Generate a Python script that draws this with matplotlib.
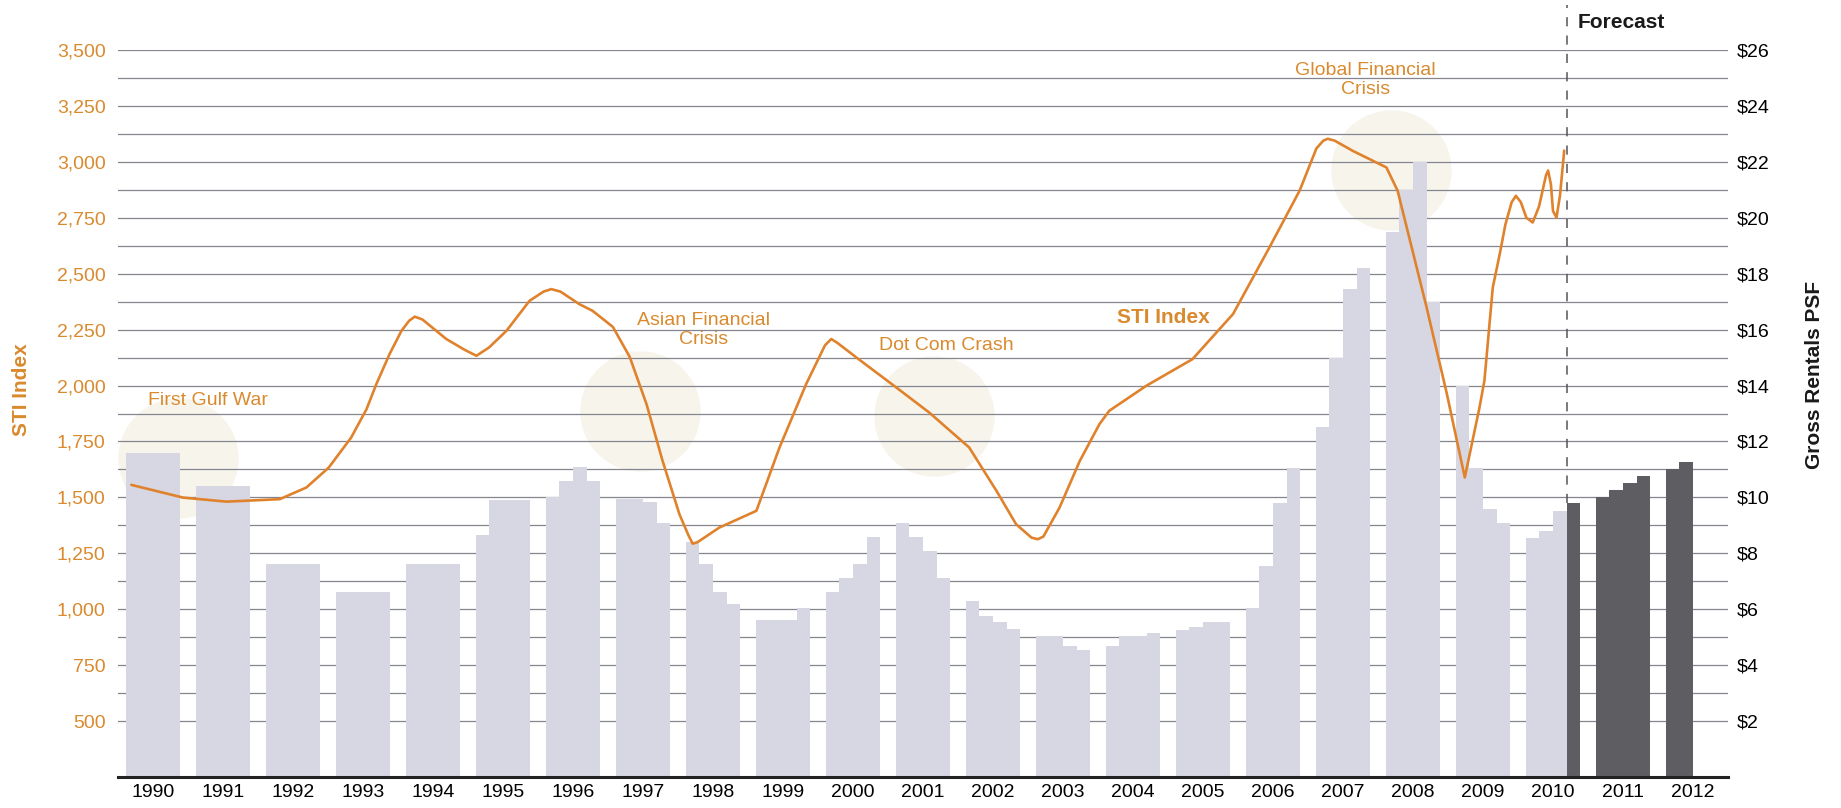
import matplotlib
matplotlib.use('Agg')
import matplotlib.pyplot as plt
import numpy as np

plt.rcParams['font.family'] = ['Liberation Sans', 'DejaVu Sans']

# years on the x axis
years = list(range(1990, 2013))

# quarterly gross rentals (S$ psf)
rent_q = [
    [11.6, 11.6, 11.6, 11.6],   # 1990
    [10.4, 10.4, 10.4, 10.4],   # 1991
    [7.6, 7.6, 7.6, 7.6],       # 1992
    [6.6, 6.6, 6.6, 6.6],       # 1993
    [7.6, 7.6, 7.6, 7.6],       # 1994
    [8.65, 9.9, 9.9, 9.9],      # 1995
    [10.0, 10.6, 11.1, 10.6],   # 1996
    [9.95, 9.95, 9.85, 9.1],    # 1997
    [8.4, 7.6, 6.6, 6.2],       # 1998
    [5.6, 5.6, 5.6, 6.05],      # 1999
    [6.6, 7.1, 7.6, 8.6],       # 2000
    [9.1, 8.6, 8.1, 7.1],       # 2001
    [6.3, 5.75, 5.55, 5.3],     # 2002
    [5.05, 5.05, 4.7, 4.55],    # 2003
    [4.7, 5.05, 5.05, 5.15],    # 2004
    [5.25, 5.35, 5.55, 5.55],   # 2005
    [6.05, 7.55, 9.8, 11.05],   # 2006
    [12.5, 15.0, 17.45, 18.2],  # 2007
    [19.5, 21.0, 22.0, 17.0],   # 2008
    [14.0, 11.05, 9.6, 9.1],    # 2009
    [8.55, 8.8, 9.5, 9.8],      # 2010
    [10.0, 10.25, 10.5, 10.75], # 2011
    [11.0, 11.25],              # 2012
]
# forecast starts at 2010 Q4
forecast_start = (2010, 4)

# STI index line (x in years, centred on the year bars)
sti_t = [1989.69, 1990.43, 1991.05, 1991.81, 1992.19, 1992.51, 1992.83, 1993.05,
         1993.19, 1993.38, 1993.55, 1993.66, 1993.74, 1993.85, 1994.19, 1994.45,
         1994.62, 1994.8, 1995.05, 1995.38, 1995.58, 1995.69, 1995.82, 1996.09,
         1996.28, 1996.57, 1996.81, 1997.05, 1997.28, 1997.52, 1997.65, 1997.71,
         1997.78, 1998.09, 1998.62, 1998.95, 1999.33, 1999.6, 1999.69, 1999.78,
         2000.05, 2000.62, 2001.09, 2001.66, 2002.05, 2002.33, 2002.55, 2002.64,
         2002.72, 2002.95, 2003.24, 2003.52, 2003.66, 2004.19, 2004.85, 2005.43,
         2005.95, 2006.38, 2006.62, 2006.72, 2006.78, 2006.88, 2007.14, 2007.62,
         2007.78, 2008.19, 2008.48, 2008.74, 2008.95, 2009.02, 2009.14, 2009.24,
         2009.32, 2009.41, 2009.47, 2009.54, 2009.62, 2009.71, 2009.8, 2009.9,
         2009.93, 2009.97, 2010.0, 2010.05, 2010.1, 2010.16]
sti_v = [1556, 1499, 1481, 1492, 1544, 1633, 1767, 1894,
         2006, 2141, 2245, 2290, 2308, 2295, 2208, 2160,
         2133, 2170, 2245, 2379, 2420, 2431, 2420, 2364,
         2334, 2262, 2128, 1917, 1663, 1425, 1330, 1293,
         1300, 1365, 1440, 1723, 2006, 2180, 2208, 2190,
         2125, 1991, 1879, 1723, 1529, 1380, 1320, 1313,
         1325, 1454, 1663, 1827, 1887, 1999, 2118, 2320,
         2618, 2871, 3060, 3095, 3103, 3095, 3049, 2975,
         2871, 2355, 1968, 1589, 1902, 2021, 2439, 2589,
         2720, 2820, 2848, 2820, 2750, 2729, 2800, 2940,
         2961, 2900, 2780, 2751, 2850, 3050]

# annotations (text, year position, STI level)
events = [
    ('First Gulf War', 1990.79, 1932),
    ('Asian Financial\nCrisis', 1997.86, 2249),
    ('Dot Com Crash', 2001.34, 2178),
    ('Global Financial\nCrisis', 2007.32, 3368),
]

orange = '#e0822c'
orange_txt = '#d98a2e'
light_bar = '#d7d7e3'
dark_bar = '#5e5e62'

fig = plt.figure(figsize=(18.41, 8.08), dpi=100)
ax2 = fig.add_axes([118 / 1841, 1 - 777 / 808, (1728 - 118) / 1841, (777 - 50) / 808])
ax1 = ax2.twinx()
ax1.set_zorder(ax2.get_zorder() + 1)
ax1.patch.set_visible(False)

# rental bars on the $ axis (ax2)
qw = 0.196
for i, yr in enumerate(years):
    for q, val in enumerate(rent_q[i]):
        is_fc = (yr, q + 1) >= forecast_start
        ax2.bar(i + (q - 1.5) * qw, val, width=qw, color=dark_bar if is_fc else light_bar,
                linewidth=0, zorder=2)

# faint glow circles behind events
for gx, gy in [(0.35, 11.4), (6.95, 13.1), (11.16, 12.9), (17.69, 21.7)]:
    ax2.scatter(gx, gy, s=7500, color='#f7f4ec', linewidths=0, zorder=0.2)

ax2.set_xlim(-0.5, 22.5)
ax2.set_ylim(0, 26)
ax2.set_yticks(np.arange(2, 27, 2))
ax2.set_yticks(np.arange(3, 26, 2), minor=True)
ax2.set_yticklabels(['$%d' % v for v in range(2, 27, 2)])
ax2.set_axisbelow(True)
ax2.grid(which='both', axis='y', color='#85858f', linewidth=0.9)
ax2.tick_params(axis='y', which='both', length=0, labelsize=14, pad=6,
                labelleft=False, labelright=True, left=False)
ax2.set_xticks(range(len(years)))
ax2.set_xticklabels([str(y) for y in years])
ax2.tick_params(axis='x', length=0, labelsize=14, pad=5)
for s in ['top', 'left', 'right']:
    ax2.spines[s].set_visible(False)
ax2.spines['bottom'].set_color('#222222')
ax2.spines['bottom'].set_linewidth(2.2)

# STI line on the left axis (ax1)
ax1.set_ylim(250, 3500)
ax1.yaxis.set_label_position('left')
ax1.yaxis.tick_left()
ax1.set_yticks(np.arange(500, 3501, 250))
ax1.set_yticklabels(['{:,}'.format(v) for v in range(500, 3501, 250)])
ax1.tick_params(axis='y', length=0, labelsize=14, pad=9, labelcolor=orange_txt,
                labelright=False, right=False)
for s in ax1.spines.values():
    s.set_visible(False)
ax1.plot([t - 1990 for t in sti_t], sti_v, color=orange, linewidth=1.9,
         solid_joinstyle='round', solid_capstyle='round', zorder=3)

for txt, tx, ty in events:
    ax1.text(tx - 1990, ty, txt, color=orange_txt, fontsize=14, ha='center',
             va='center', linespacing=1.15, zorder=4)
ax1.text(14.44, 2303, 'STI Index', color=orange_txt, fontsize=15, fontweight='bold',
         ha='center', va='center', zorder=4)

# forecast divider
fc_x = 20 + qw
ax1.plot([fc_x, fc_x], [1474, 3700], color='#555555', linewidth=1.1,
         linestyle=(0, (6, 6)), clip_on=False, zorder=3)
ax1.text(20.35, 3624, 'Forecast', fontsize=15, fontweight='bold', color='#1a1a1a',
         ha='left', va='center', clip_on=False)

fig.text(22 / 1841, 1 - 390 / 808, 'STI Index', rotation=90, color=orange_txt,
         fontsize=15, fontweight='bold', ha='center', va='center')
fig.text(1814 / 1841, 1 - 375 / 808, 'Gross Rentals PSF', rotation=90, color='#1a1a1a',
         fontsize=15, fontweight='bold', ha='center', va='center')

fig.savefig('out.png', dpi=100, facecolor='white')
